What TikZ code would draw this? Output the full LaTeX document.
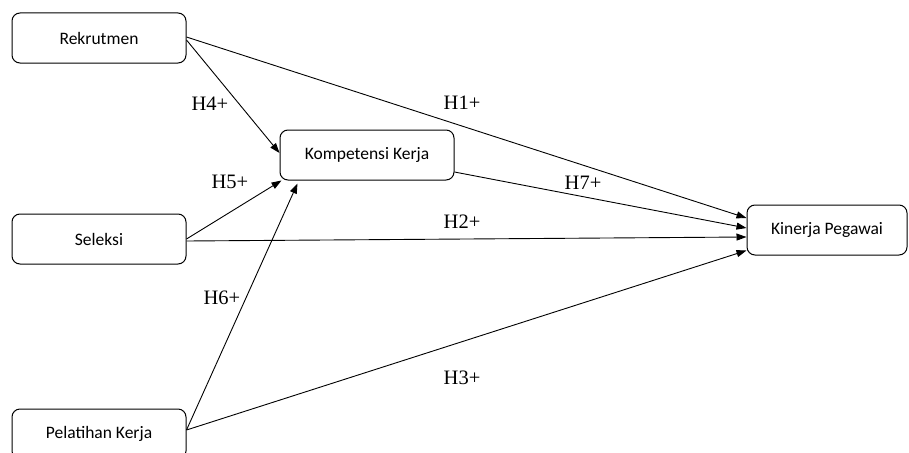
\documentclass[tikz,border=0pt]{standalone}
\usepackage{fontspec}
\setmainfont{Liberation Serif}
\newfontfamily\boxfont{Carlito}
\usetikzlibrary{arrows.meta}
\begin{document}
\begin{tikzpicture}[x=1pt,y=-1pt,
  box/.style={draw, line width=1pt, rounded corners=8pt, minimum width=174pt, minimum height=50pt, inner sep=0pt, font=\boxfont\fontsize{17.5}{20}\selectfont},
  conn/.style={line width=0.9pt, -{Triangle[length=10pt,width=7pt]}},
  lbl/.style={font=\fontsize{20.5}{24}\selectfont, inner sep=0pt}]
\useasboundingbox (0,0) rectangle (909,452);
\clip (0,0) rectangle (909,452);
\node[box] (rek) at (99,38) {Rekrutmen};
\node[box] (komp) at (367,155) {Kompetensi Kerja};
\node[box] (sel) at (99,239) {Seleksi};
\node[box] (pel) at (99,434) {Pelatihan Kerja};
\node[box, minimum width=160pt] (kin) at (827,230) {Kinerja Pegawai};
\draw[conn] ([yshift=1pt]rek.east) -- ([yshift=12pt]kin.west);
\draw[conn] ([yshift=-2pt]rek.east) -- ([yshift=2pt]komp.west);
\draw[conn] (sel.east) -- ([xshift=2pt]komp.south west);
\draw[conn] ([yshift=-2pt]sel.east) -- ([yshift=-7pt]kin.west);
\draw[conn] ([yshift=4pt]pel.east) -- ([xshift=18pt,yshift=-3pt]komp.south west);
\draw[conn] ([yshift=4pt]pel.east) -- ([yshift=5pt]kin.south west);
\draw[conn] ([yshift=-17pt]komp.east) -- ([yshift=2pt]kin.west);
\node[lbl] (h1) at (462,103) {H1+};
\node[lbl] (h4) at (210,104) {H4+};
\node[lbl] (h5) at (230,182) {H5+};
\node[lbl] (h7) at (583,183) {H7+};
\node[lbl] (h2) at (462,222) {H2+};
\node[lbl] (h6) at (222,298) {H6+};
\node[lbl] (h3) at (462,378) {H3+};
\end{tikzpicture}
\end{document}
